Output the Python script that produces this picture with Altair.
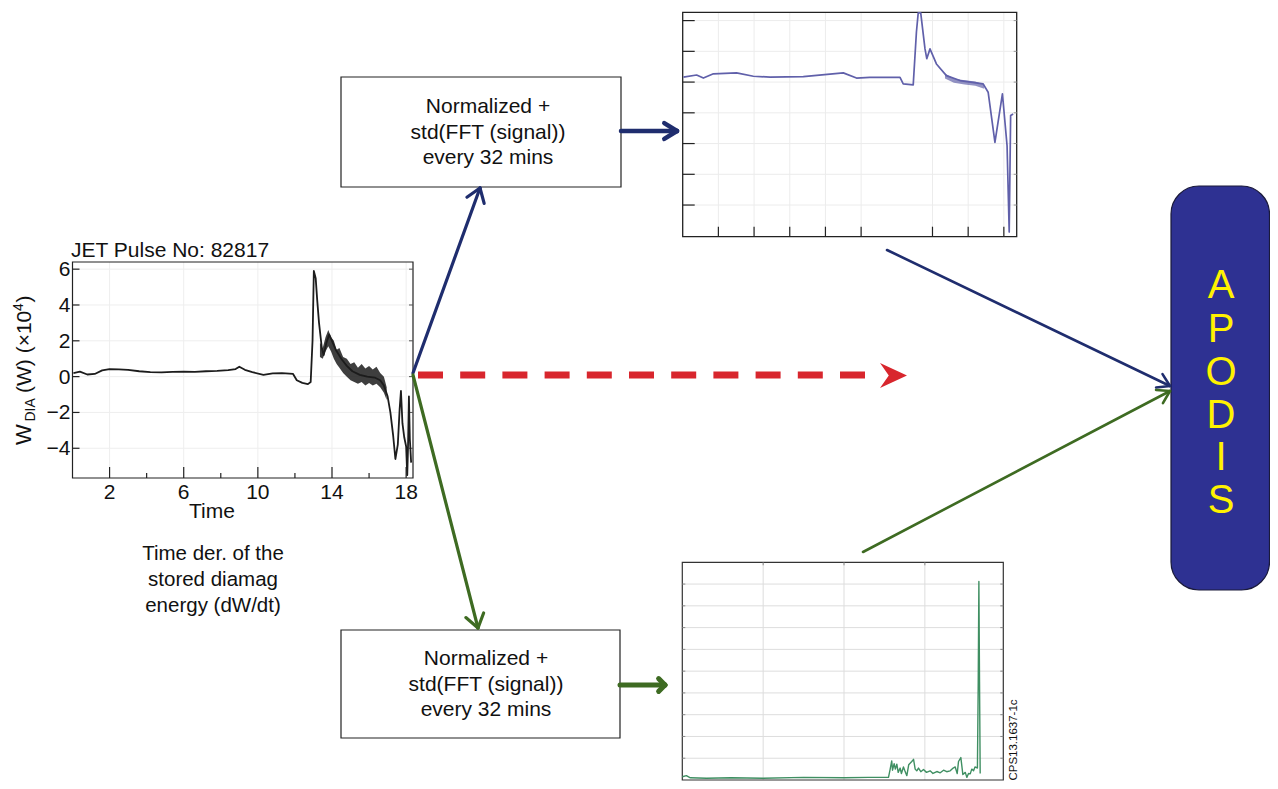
import math
import altair as alt
import pandas as pd

# ---------------- data ----------------
# main panel: time derivative of the stored diamagnetic energy, JET pulse 82817
main_t = [0.05, 0.4, 0.8, 1.2, 1.6, 2.0, 2.5, 3.0, 3.6, 4.2, 4.8, 5.4, 6.0, 6.6, 7.2,
          7.8, 8.4, 8.8, 9.0, 9.3, 9.7, 10.3, 10.8, 11.3, 11.9, 12.1, 12.4, 12.7, 12.85,
          12.95, 13.02, 13.12, 13.2, 13.3, 13.45, 13.55, 13.7, 13.85, 14.0, 14.2, 14.5,
          14.8, 15.1, 15.5, 15.9, 16.3, 16.6, 16.8, 17.0, 17.15, 17.3, 17.42, 17.55,
          17.65, 17.72, 17.8, 17.9, 18.0, 18.06, 18.1, 18.15, 18.2, 18.27]
main_w = [0.2, 0.28, 0.12, 0.15, 0.35, 0.42, 0.4, 0.38, 0.3, 0.25, 0.24, 0.27, 0.28,
          0.26, 0.3, 0.32, 0.36, 0.42, 0.55, 0.38, 0.25, 0.1, 0.18, 0.2, 0.15, -0.2,
          -0.35, -0.42, -0.3, 2.0, 5.9, 5.5, 4.3, 3.0, 1.6, 1.2, 1.9, 2.35, 2.0, 1.5,
          1.0, 0.6, 0.3, 0.1, 0.0, -0.05, -0.2, -0.5, -1.1, -2.0, -3.3, -4.6, -3.8,
          -1.8, -0.8, -2.6, -3.4, -3.9, -5.5, -4.0, -1.1, -3.5, -4.8]
# envelope of the noisy part of the main signal
band_t = [13.35, 13.5, 13.65, 13.8, 13.95, 14.1, 14.25, 14.4, 14.6, 14.8, 15.0, 15.2,
          15.4, 15.6, 15.8, 16.0, 16.2, 16.4, 16.6, 16.8, 16.95]
band_hi = [1.9, 1.6, 2.2, 2.6, 2.2, 2.0, 1.5, 1.6, 1.1, 1.0, 0.7, 0.8, 0.5, 0.7, 0.45,
           0.6, 0.4, 0.55, 0.2, 0.0, -0.6]
band_lo = [1.1, 1.0, 1.4, 1.7, 1.4, 1.0, 0.7, 0.5, 0.2, 0.0, -0.2, -0.3, -0.4, -0.3,
           -0.5, -0.35, -0.5, -0.4, -0.6, -0.9, -1.3]
main_xticks_major = [2, 6, 10, 14, 18]
main_xticks_minor = [4, 8, 12, 16]
main_yticks = [6, 4, 2, 0, -2, -4]
main_ylabels = ["6", "4", "2", "0", "\u22122", "\u22124"]

# top-right panel (normalised signal)
top_t = [0.02, 0.39, 0.58, 0.86, 1.51, 1.98, 2.45, 3.38, 4.50, 4.87, 5.24, 6.09, 6.18,
         6.46, 6.55, 6.60, 6.67, 6.79, 6.84, 6.93, 7.11, 7.39, 7.77, 8.42, 8.56, 8.75,
         8.96, 9.09, 9.15, 9.19, 9.26]
top_v = [5.16, 5.23, 5.13, 5.27, 5.30, 5.19, 5.16, 5.18, 5.30, 5.13, 5.15, 5.15, 4.94,
         4.91, 6.63, 7.25, 7.25, 6.08, 5.76, 6.08, 5.59, 5.21, 5.05, 4.94, 4.67, 3.04,
         4.62, 2.93, 0.12, 3.91, 3.96]
topband_t = [7.35, 7.6, 7.9, 8.2, 8.45]
topband_hi = [5.28, 5.12, 5.06, 5.02, 4.92]
topband_lo = [5.12, 4.98, 4.92, 4.88, 4.78]
top_xticks = [1, 2, 3, 4, 5, 7, 8, 9]
top_yticks = [1, 2, 3, 4, 5, 6, 7]

# bottom-right panel (std of FFT)
bot_t = [0.0, 0.05, 0.1, 0.3, 0.6, 1.0, 1.5, 2.0, 2.3, 2.55, 2.571, 2.59, 2.60, 2.62,
         2.635, 2.653, 2.67, 2.694, 2.71, 2.735, 2.75, 2.777, 2.80, 2.838, 2.86, 2.88,
         2.90, 2.921, 2.95, 2.983, 3.02, 3.065, 3.10, 3.148, 3.19, 3.231, 3.27, 3.313,
         3.35, 3.375, 3.40, 3.416, 3.445, 3.47, 3.50, 3.519, 3.54, 3.561, 3.58, 3.602,
         3.62, 3.635, 3.65, 3.66, 3.668, 3.676, 3.684]
bot_v = [0.15, 0.2, 0.1, 0.08, 0.1, 0.08, 0.12, 0.1, 0.12, 0.12, 0.5, 0.88, 0.45, 0.75,
         0.5, 0.73, 0.35, 0.55, 0.3, 0.6, 0.45, 0.2, 0.7, 0.85, 0.95, 0.5, 0.42, 0.55,
         0.38, 0.48, 0.35, 0.42, 0.3, 0.39, 0.33, 0.45, 0.38, 0.42, 0.55, 0.6, 0.3, 0.85,
         1.03, 0.25, 0.35, 0.12, 0.3, 0.28, 0.5, 0.42, 0.6, 0.58, 0.55, 4.5, 9.12, 4.5, 0.3]
bot_xgrid = [1, 2, 3]
bot_ygrid = [1, 2, 3, 4, 5, 6, 7, 8, 9]

# texts
title_main = "JET Pulse No: 82817"
x_title = "Time"
caption_lines = ["Time der. of the", "stored diamag", "energy (dW/dt)"]
box_lines = ["Normalized +", "std(FFT (signal))", "every 32 mins"]
apodis_letters = ["A", "P", "O", "D", "I", "S"]
code_label = "CPS13.1637-1c"

# ---------------- layout ----------------
PAGE = 8
W, H = 1262, 773
FONT = "Liberation Sans"
BLUE = "#1f2d6e"
GREEN = "#3e6b22"
RED = "#d8262d"

MAIN = dict(x0=72.5, x1=413.0, y0=262.0, y1=478.0, xd=[0.0, 18.37], yd=[-5.66, 6.4])
TOPP = dict(x0=682.7, x1=1016.7, y0=12.3, y1=236.7, xd=[0.0, 9.36], yd=[-0.03, 7.27])
BOTP = dict(x0=682.3, x1=1003.3, y0=562.3, y1=780.0, xd=[0.0, 3.97], yd=[0.0, 10.0])


def sx(p):
    if p is None:
        return alt.Scale(domain=[PAGE, PAGE + W], range=[0, W], nice=False, zero=False)
    return alt.Scale(domain=p["xd"], range=[p["x0"] - PAGE, p["x1"] - PAGE], nice=False, zero=False)


def sy(p):
    if p is None:
        return alt.Scale(domain=[PAGE, PAGE + H], range=[0, H], nice=False, zero=False)
    return alt.Scale(domain=p["yd"], range=[p["y1"] - PAGE, p["y0"] - PAGE], nice=False, zero=False)


def xy(p, x="x", y="y", x2=None, y2=None):
    e = dict(x=alt.X(f"{x}:Q", scale=sx(p), axis=None),
             y=alt.Y(f"{y}:Q", scale=sy(p), axis=None))
    if x2:
        e["x2"] = alt.X2(f"{x2}:Q")
    if y2:
        e["y2"] = alt.Y2(f"{y2}:Q")
    return e


def ppu(p, axis):
    if axis == "x":
        return (p["x1"] - p["x0"]) / (p["xd"][1] - p["xd"][0])
    return (p["y1"] - p["y0"]) / (p["yd"][1] - p["yd"][0])


def frame(p, color, width):
    df = pd.DataFrame({"x": [p["xd"][0]], "x2": [p["xd"][1]], "y": [p["yd"][0]], "y2": [p["yd"][1]]})
    return alt.Chart(df).mark_rect(fillOpacity=0, stroke=color, strokeWidth=width).encode(
        **xy(p, x2="x2", y2="y2"))


def ticks(p, side, values, length, color, width=1.0):
    if side in ("bottom", "top"):
        u = length / ppu(p, "y")
        base = p["yd"][0] if side == "bottom" else p["yd"][1]
        end = base + u if side == "bottom" else base - u
        rows = [dict(x=v, x2=v, y=base, y2=end) for v in values]
    else:
        u = length / ppu(p, "x")
        base = p["xd"][0] if side == "left" else p["xd"][1]
        end = base + u if side == "left" else base - u
        rows = [dict(x=base, x2=end, y=v, y2=v) for v in values]
    return alt.Chart(pd.DataFrame(rows)).mark_rule(color=color, strokeWidth=width).encode(
        **xy(p, x2="x2", y2="y2"))


def grid(p, xs, ys, color, width=1.0):
    rows = [dict(x=v, x2=v, y=p["yd"][0], y2=p["yd"][1]) for v in xs]
    rows += [dict(x=p["xd"][0], x2=p["xd"][1], y=v, y2=v) for v in ys]
    return alt.Chart(pd.DataFrame(rows)).mark_rule(color=color, strokeWidth=width).encode(
        **xy(p, x2="x2", y2="y2"))


def texts(p, df, **mark):
    return alt.Chart(df).mark_text(font=FONT, **mark).encode(**xy(p), text="text:N")


def arrows(specs):
    rows = []
    for a in specs:
        rows.append(dict(x=a["x"], y=a["y"], x2=a["x2"], y2=a["y2"], c=a["c"], w=a["w"]))
        dx, dy = a["x2"] - a["x"], a["y2"] - a["y"]
        n = math.hypot(dx, dy)
        ux, uy = dx / n, dy / n
        for s in (1, -1):
            ang = math.radians(a["ang"]) * s
            bx = ux * math.cos(ang) - uy * math.sin(ang)
            by = ux * math.sin(ang) + uy * math.cos(ang)
            rows.append(dict(x=a["x2"] - a["head"] * bx, y=a["y2"] - a["head"] * by,
                             x2=a["x2"], y2=a["y2"], c=a["c"], w=a["w"]))
    return alt.Chart(pd.DataFrame(rows)).mark_rule(strokeCap="round").encode(
        **xy(None, x2="x2", y2="y2"),
        color=alt.Color("c:N", scale=None),
        strokeWidth=alt.StrokeWidth("w:Q", scale=None))


layers = []

# ---------- main panel ----------
layers.append(grid(MAIN, main_xticks_major, main_yticks, "#eeeeee"))
layers.append(frame(MAIN, "#222222", 1.2))
layers.append(ticks(MAIN, "bottom", main_xticks_major, 11, "#222222", 1.2))
layers.append(ticks(MAIN, "bottom", main_xticks_minor, 5, "#222222", 1.2))
layers.append(ticks(MAIN, "left", main_yticks, 7, "#222222", 1.2))
layers.append(ticks(MAIN, "right", main_yticks, 4, "#555555", 1.0))
layers.append(alt.Chart(pd.DataFrame({"x": band_t, "y": band_hi, "y2": band_lo}))
              .mark_area(color="#1c1c1c", opacity=0.85).encode(**xy(MAIN, y2="y2")))
layers.append(alt.Chart(pd.DataFrame({"x": main_t, "y": main_w}))
              .mark_line(color="#1c1c1c", strokeWidth=1.8, strokeJoin="round").encode(**xy(MAIN)))
layers.append(texts(MAIN, pd.DataFrame({"x": main_xticks_major, "y": [MAIN["yd"][0]] * 5,
                                        "text": [str(v) for v in main_xticks_major]}),
                    fontSize=21, align="center", baseline="alphabetic", dy=21, color="#111111"))
layers.append(texts(MAIN, pd.DataFrame({"x": [MAIN["xd"][0]] * 6, "y": main_yticks,
                                        "text": main_ylabels}),
                    fontSize=21, align="right", baseline="middle", dx=-2, dy=1, color="#111111"))

# main panel titles (canvas coordinates)
layers.append(texts(None, pd.DataFrame({"x": [71], "y": [257], "text": [title_main]}),
                    fontSize=21, align="left", baseline="alphabetic", color="#111111"))
layers.append(texts(None, pd.DataFrame({"x": [212], "y": [518], "text": [x_title]}),
                    fontSize=21, align="center", baseline="alphabetic", color="#111111"))
ytitle = pd.DataFrame({"x": [31, 35, 31, 22.5, 31], "y": [445, 421.5, 393, 311, 302.5],
                       "text": ["W", "DIA", "(W) (\u00d710", "4", ")"],
                       "fs": [22, 14, 21, 14, 21]})
layers.append(alt.Chart(ytitle).mark_text(font=FONT, angle=270, align="left",
                                          baseline="alphabetic", color="#111111")
              .encode(**xy(None), text="text:N", size=alt.Size("fs:Q", scale=None)))
layers.append(texts(None, pd.DataFrame({"x": [213, 213, 213], "y": [560, 586, 612],
                                        "text": caption_lines}),
                    fontSize=20.5, align="center", baseline="alphabetic", color="#111111"))

# ---------- top-right panel ----------
layers.append(grid(TOPP, top_xticks, top_yticks, "#ececec"))
layers.append(frame(TOPP, "#222222", 1.3))
layers.append(ticks(TOPP, "bottom", top_xticks, 10, "#222222", 1.2))
layers.append(ticks(TOPP, "left", top_yticks, 12, "#222222", 1.2))
layers.append(ticks(TOPP, "right", top_yticks, 3, "#999999", 1.0))
layers.append(alt.Chart(pd.DataFrame({"x": topband_t, "y": topband_hi, "y2": topband_lo}))
              .mark_area(color="#4b4b9c", opacity=0.6).encode(**xy(TOPP, y2="y2")))
layers.append(alt.Chart(pd.DataFrame({"x": top_t, "y": top_v}))
              .mark_line(color="#6060aa", strokeWidth=1.7, strokeJoin="round").encode(**xy(TOPP)))

# ---------- bottom-right panel ----------
layers.append(grid(BOTP, bot_xgrid, bot_ygrid, "#dddddd"))
layers.append(frame(BOTP, "#333333", 1.2))
layers.append(ticks(BOTP, "left", bot_ygrid, 3, "#888888", 1.0))
layers.append(ticks(BOTP, "right", bot_ygrid, 3, "#888888", 1.0))
layers.append(ticks(BOTP, "top", bot_xgrid, 3, "#888888", 1.0))
layers.append(alt.Chart(pd.DataFrame({"x": bot_t, "y": bot_v}))
              .mark_line(color="#3f8f62", strokeWidth=1.4, strokeJoin="round").encode(**xy(BOTP)))
layers.append(texts(None, pd.DataFrame({"x": [1014], "y": [740], "text": [code_label]}),
                    fontSize=11.5, angle=270, align="center", baseline="middle", color="#111111"))

# ---------- processing boxes ----------
boxes = pd.DataFrame({"x": [341, 341], "x2": [621, 620], "y": [77, 630], "y2": [187, 738]})
layers.append(alt.Chart(boxes).mark_rect(fill="white", stroke="#222222", strokeWidth=1.2)
              .encode(**xy(None, x2="x2", y2="y2")))
layers.append(texts(None, pd.DataFrame({"x": [488] * 3 + [486] * 3,
                                        "y": [113, 138.5, 163.5, 665, 690.5, 715.5],
                                        "text": box_lines + box_lines}),
                    fontSize=21, align="center", baseline="alphabetic", color="#111111"))

# ---------- APODIS block ----------
apo = pd.DataFrame({"x": [1171], "x2": [1269.5], "y": [186], "y2": [590]})
layers.append(alt.Chart(apo).mark_rect(fill="#2e3192", stroke="#1a1a3a", strokeWidth=1.2,
                                       cornerRadius=28).encode(**xy(None, x2="x2", y2="y2")))
layers.append(texts(None, pd.DataFrame({"x": [1221] * 6, "y": [298, 342, 385, 428, 470, 513],
                                        "text": apodis_letters}),
                    fontSize=40, align="center", baseline="alphabetic", color="#fff200"))

# ---------- arrows ----------
layers.append(alt.Chart(pd.DataFrame({"x": [418], "x2": [866], "y": [375], "y2": [375]}))
              .mark_rule(color=RED, strokeWidth=7, strokeDash=[25, 17.2])
              .encode(**xy(None, x2="x2", y2="y2")))
layers.append(alt.Chart(pd.DataFrame({"x": [893.5], "y": [375.5]}))
              .mark_point(shape="M1,0 L-1,-0.93 L-0.35,0 L-1,0.93 Z", filled=True, size=729,
                          color=RED, opacity=1).encode(**xy(None)))
arrow_specs = [
    dict(x=413, y=373, x2=480, y2=188, c=BLUE, w=3.2, head=16, ang=35),
    dict(x=413, y=375, x2=478, y2=628, c=GREEN, w=3.2, head=16, ang=35),
    dict(x=621, y=131, x2=677, y2=131, c=BLUE, w=4.5, head=15, ang=32),
    dict(x=620, y=685, x2=665, y2=685, c=GREEN, w=5, head=9, ang=45),
    dict(x=887, y=250, x2=1170, y2=386, c=BLUE, w=2.6, head=14, ang=32),
    dict(x=863, y=552, x2=1170, y2=391, c=GREEN, w=2.6, head=14, ang=32),
]
layers.append(arrows(arrow_specs))

chart = (alt.layer(*layers)
         .resolve_scale(x="independent", y="independent")
         .properties(width=W, height=H, padding=0, autosize=alt.AutoSizeParams(type="none"),
                     background="white")
         .configure_view(stroke=None))

chart.save("out.html", embed_options={"renderer": "svg", "actions": False})
